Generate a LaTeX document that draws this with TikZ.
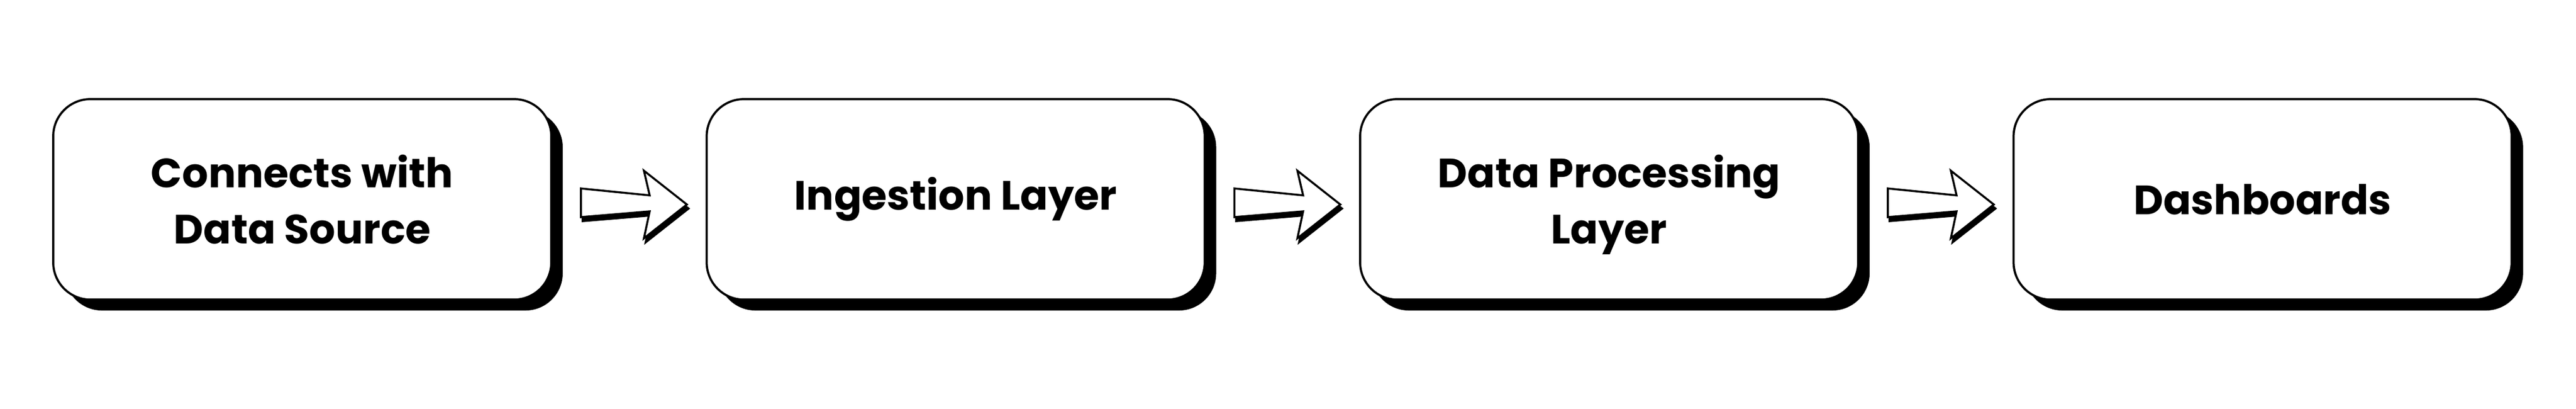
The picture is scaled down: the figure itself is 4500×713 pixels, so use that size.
\documentclass[tikz,border=0pt]{standalone}
\usepackage{fontspec}
\setmainfont{Poppins}
\usetikzlibrary{shadows,calc}
\tikzset{
  stagebox/.style={draw=black, line width=0.75pt, fill=white,
    rounded corners=13pt, minimum width=174pt, minimum height=70pt,
    inner sep=0pt, align=center, text depth=0pt,
    font=\fontsize{14.3}{19.6}\selectfont\bfseries,
    drop shadow={shadow xshift=4pt, shadow yshift=-3.8pt, fill=black, opacity=1}},
  arrowbody/.style={draw=black, line width=0.7pt, fill=white, line join=miter},
  arrowshadow/.style={fill=black, draw=black, line width=0.7pt,
    transform canvas={shift={(0.6pt,-1.4pt)}}}
}
\newcommand\blockarrowfrom[2][]{%
  \path[#1] ([shift={(50,-19)}]#2.east) -- ([shift={(170,-7)}]#2.east)
    -- ([shift={(160,-50)}]#2.east) -- ([shift={(235,9)}]#2.east)
    -- ([shift={(160,68)}]#2.east) -- ([shift={(170,21)}]#2.east)
    -- ([shift={(50,31)}]#2.east) -- cycle;}
\begin{document}
\begin{tikzpicture}[x=0.2pt,y=-0.2pt]
\useasboundingbox (0,0) rectangle (4500,713);
\node[stagebox] (s1) at (528,348) {Connects with\\Data Source};
\node[stagebox, text depth=] (s2) at (1669.5,348) {Ingestion Layer};
\node[stagebox] (s3) at (2811,348) {Data Processing\\Layer};
\node[stagebox] (s4) at (3952.5,348) {Dashboards};
\foreach \n in {s1,s2,s3}{
  \blockarrowfrom[arrowshadow]{\n}
  \blockarrowfrom[arrowbody]{\n}
}
\end{tikzpicture}
\end{document}
